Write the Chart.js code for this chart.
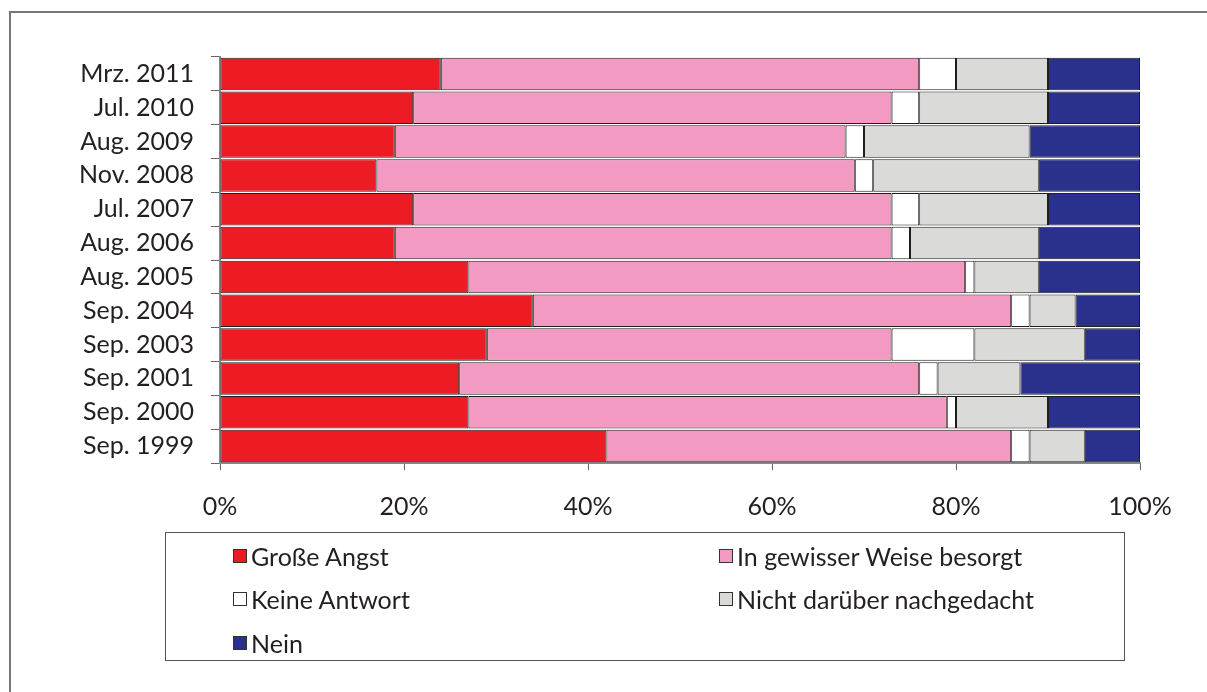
<!DOCTYPE html>
<html>
<head>
<meta charset="utf-8">
<script src="https://cdn.jsdelivr.net/npm/chart.js@4/dist/chart.umd.min.js"></script>
<style>
  body { margin: 0; background: #fff; }
  #wrap { position: relative; width: 1207px; height: 692px; overflow: hidden; }
  #frame { position: absolute; left: 9px; top: 11px; width: 1400px; height: 900px;
           border-top: 2px solid #777; border-left: 2px solid #777; }
  #chart { position: absolute; left: 0; top: 0; }
  #legend { position: absolute; left: 165px; top: 532px; width: 960px; height: 129px;
            border: 1px solid #555; box-sizing: border-box; }
  .item { position: absolute; display: flex; align-items: center; height: 30px;
          font: 25px Lato, sans-serif; color: #231f20; }
  .sw { width: 12px; height: 12px; border: 1px solid #333; margin-right: 4px; }
</style>
</head>
<body>
<div id="wrap">
  <div id="frame"></div>
  <canvas id="chart" width="1207" height="692"></canvas>
  <div id="legend"></div>
</div>
<script>
// survey dates, top row first
const categories = ["Mrz. 2011", "Jul. 2010", "Aug. 2009", "Nov. 2008", "Jul. 2007", "Aug. 2006",
                    "Aug. 2005", "Sep. 2004", "Sep. 2003", "Sep. 2001", "Sep. 2000", "Sep. 1999"];

const grosseAngst   = [24, 21, 19, 17, 21, 19, 27, 34, 29, 26, 27, 42];
const besorgt       = [52, 52, 49, 52, 52, 54, 54, 52, 44, 50, 52, 44];
const keineAntwort  = [4, 3, 2, 2, 3, 2, 1, 2, 9, 2, 1, 2];
const nichtGedacht  = [10, 14, 18, 18, 14, 14, 7, 5, 12, 9, 10, 6];
const nein          = [10, 10, 12, 11, 10, 11, 11, 7, 6, 13, 10, 6];

const xTicks = [0, 20, 40, 60, 80, 100];

const seriesNames = ["Große Angst", "In gewisser Weise besorgt", "Keine Antwort",
                     "Nicht darüber nachgedacht", "Nein"];
const seriesColors = ["#ed1c24", "#f29ac2", "#ffffff", "#dadad9", "#2a318c"];
const seriesData = [grosseAngst, besorgt, keineAntwort, nichtGedacht, nein];

const textColor = "#231f20";
const tickFont = { family: "Lato", size: 25 };

const datasets = seriesData.map((d, i) => ({
  label: seriesNames[i],
  data: d,
  backgroundColor: seriesColors[i],
  borderColor: "#1e1e1e",
  borderWidth: 1,
  borderSkipped: false,
  barPercentage: 0.96,
  categoryPercentage: 1
}));

new Chart(document.getElementById("chart"), {
  type: "bar",
  data: { labels: categories, datasets: datasets },
  options: {
    indexAxis: "y",
    responsive: false,
    animation: false,
    devicePixelRatio: 1,
    layout: { padding: { top: 57, right: 67, left: 0, bottom: 0 } },
    plugins: { legend: { display: false }, tooltip: { enabled: false } },
    scales: {
      x: {
        stacked: true,
        min: 0,
        max: 100,
        afterBuildTicks: s => { s.ticks = xTicks.map(v => ({ value: v })); },
        afterFit: s => { s.height = 229; },
        grid: { drawOnChartArea: false, tickLength: 7, color: "#666" },
        border: { display: true, color: "#888", width: 2 },
        ticks: { callback: v => v + "%", padding: 22, color: textColor, font: tickFont, maxRotation: 0 }
      },
      y: {
        stacked: true,
        afterFit: s => { s.width = 220; },
        grid: { drawOnChartArea: false, tickLength: 9, color: "#666", offset: true },
        border: { display: true, color: "#888", width: 2 },
        ticks: { padding: 17, color: textColor, font: tickFont }
      }
    }
  }
});

// legend in a box, two columns
const legend = document.getElementById("legend");
const colLeft = [67, 553];
const rowTop = [8, 51, 95];
seriesNames.forEach((name, i) => {
  const item = document.createElement("div");
  item.className = "item";
  item.style.left = colLeft[i % 2] + "px";
  item.style.top = rowTop[Math.floor(i / 2)] + "px";
  const sw = document.createElement("span");
  sw.className = "sw";
  sw.style.background = seriesColors[i];
  item.appendChild(sw);
  item.appendChild(document.createTextNode(name));
  legend.appendChild(item);
});
</script>
</body>
</html>
